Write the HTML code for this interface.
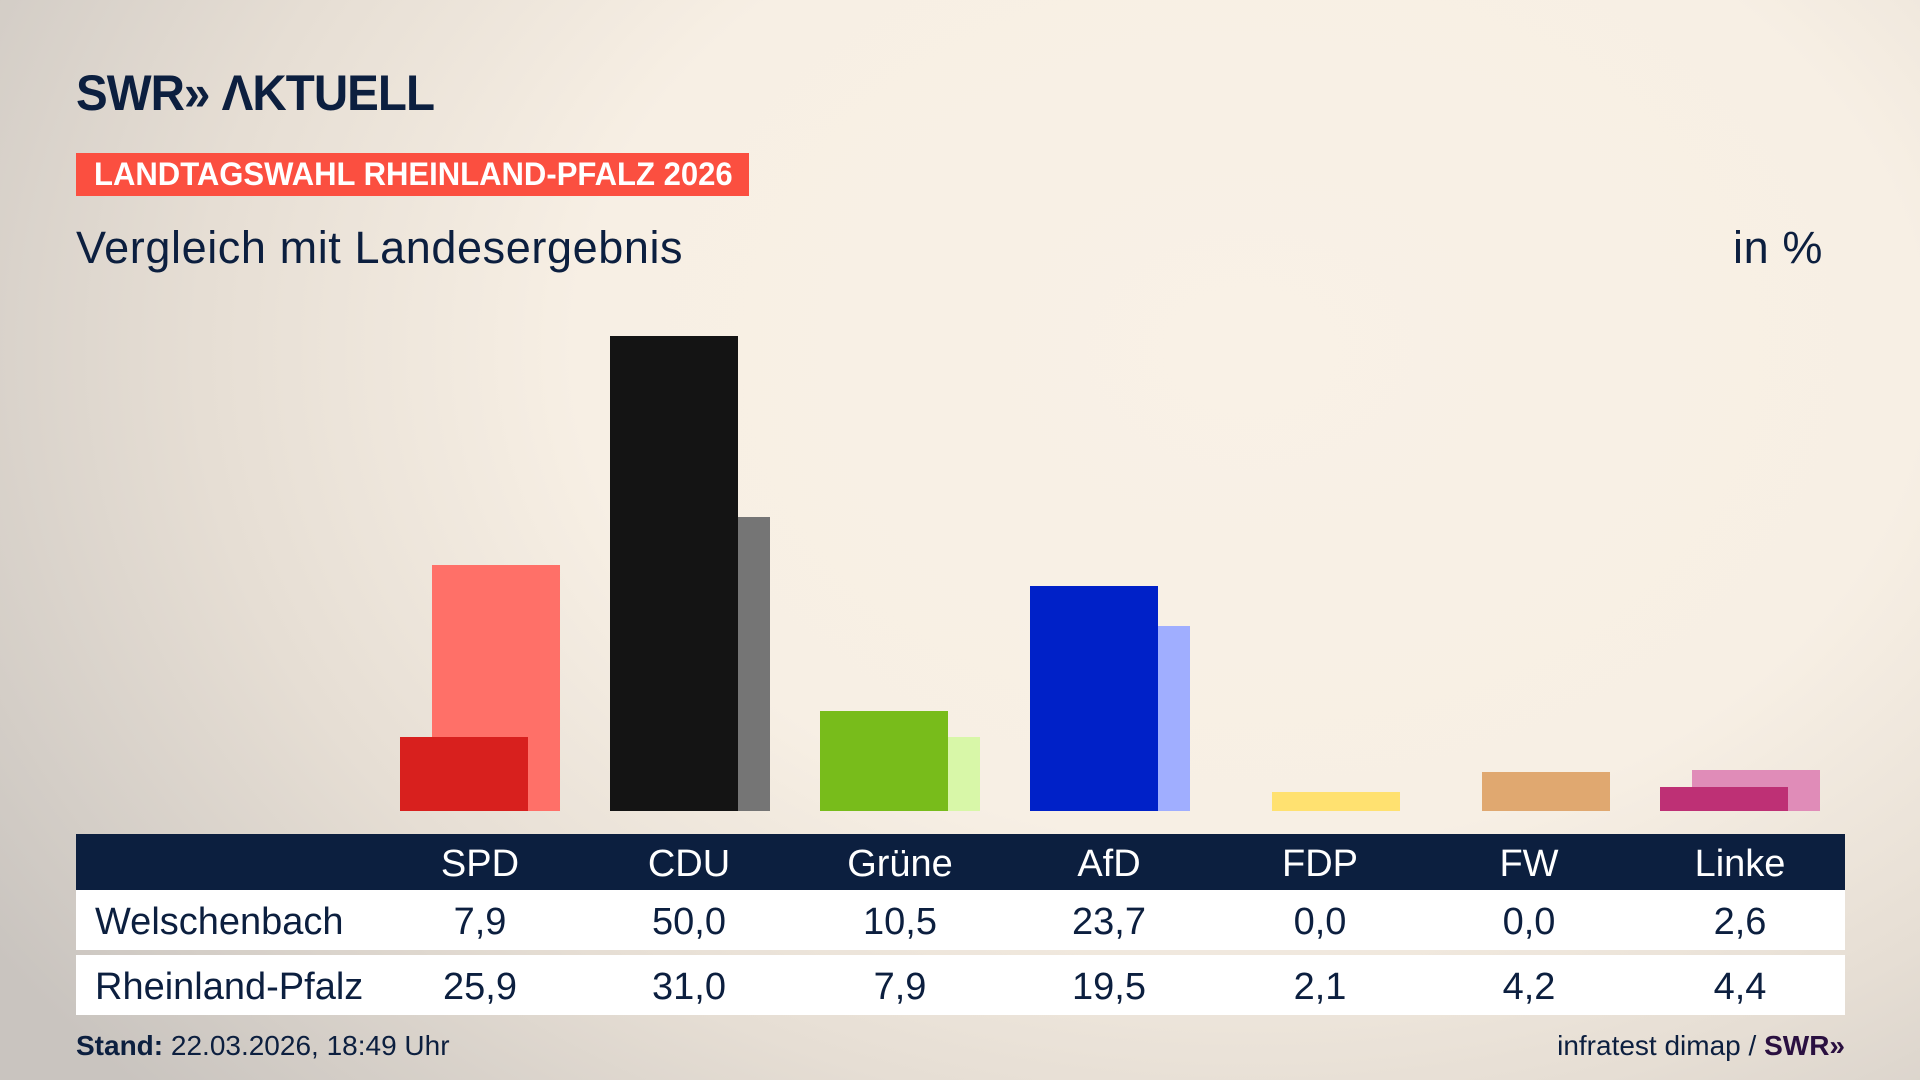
<!DOCTYPE html>
<html><head><meta charset="utf-8"><style>
*{margin:0;padding:0;box-sizing:border-box}
body{width:1920px;height:1080px;overflow:hidden;position:relative;font-family:"Liberation Sans",sans-serif;color:#0c1f3f;
background:radial-gradient(ellipse 1500px 1100px at 1250px 350px,#f9f1e6 0%,#f7efe4 45%,#e6ded4 70%,#c9c4bf 100%);}
.a{position:absolute;white-space:nowrap}
.bar{position:absolute}
.logo{left:76px;top:64px;font-weight:bold;font-size:50px;letter-spacing:-1px;color:#0c1f3f;transform:scaleX(0.95);transform-origin:left}
.banner{left:76px;top:153px;width:673px;height:43px;background:#fb4f40}
.bt{left:94px;top:153px;color:#fff;font-weight:bold;font-size:32px;line-height:43px;transform:scaleX(0.97);transform-origin:left}
.sub{font-size:45px;top:222px;letter-spacing:0.6px}
.hdr{left:76px;top:834px;width:1769px;height:56px;background:#0c1f3f}
.row{left:76px;width:1769px;height:60px;background:#fff}
.c{position:absolute;width:200px;margin-left:-100px;text-align:center;font-size:38px}
.h{color:#fff;top:843px}
.r1{top:901px}.r2{top:966px}
.lbl{position:absolute;left:95px;font-size:38px}
</style></head><body>
<div class="a logo">SWR» ΛKTUELL</div>
<div class="a banner"></div>
<div class="a bt">LANDTAGSWAHL RHEINLAND-PFALZ 2026</div>
<div class="a sub" style="left:76px">Vergleich mit Landesergebnis</div>
<div class="a sub" style="right:97px">in %</div>

<div class="bar" style="left:432px;top:565px;width:128px;height:246px;background:#ff7068"></div>
<div class="bar" style="left:400px;top:737px;width:128px;height:74px;background:#d8201e"></div>
<div class="bar" style="left:642px;top:517px;width:128px;height:294px;background:#757575"></div>
<div class="bar" style="left:610px;top:336px;width:128px;height:475px;background:#141414"></div>
<div class="bar" style="left:852px;top:737px;width:128px;height:74px;background:#d8f7a8"></div>
<div class="bar" style="left:820px;top:711px;width:128px;height:100px;background:#78bc1b"></div>
<div class="bar" style="left:1062px;top:626px;width:128px;height:185px;background:#a0aeff"></div>
<div class="bar" style="left:1030px;top:586px;width:128px;height:225px;background:#0021c8"></div>
<div class="bar" style="left:1272px;top:792px;width:128px;height:19px;background:#ffe170"></div>
<div class="bar" style="left:1482px;top:772px;width:128px;height:39px;background:#e0a870"></div>
<div class="bar" style="left:1692px;top:770px;width:128px;height:41px;background:#e08cb8"></div>
<div class="bar" style="left:1660px;top:787px;width:128px;height:24px;background:#be3075"></div>

<div class="a hdr"></div>
<div class="a row" style="top:890px"></div>
<div class="a row" style="top:955px"></div>
<div class="c h" style="left:480px">SPD</div><div class="c h" style="left:689px">CDU</div><div class="c h" style="left:900px">Grüne</div><div class="c h" style="left:1109px">AfD</div><div class="c h" style="left:1320px">FDP</div><div class="c h" style="left:1529px">FW</div><div class="c h" style="left:1740px">Linke</div>
<div class="lbl r1">Welschenbach</div>
<div class="c r1" style="left:480px">7,9</div><div class="c r1" style="left:689px">50,0</div><div class="c r1" style="left:900px">10,5</div><div class="c r1" style="left:1109px">23,7</div><div class="c r1" style="left:1320px">0,0</div><div class="c r1" style="left:1529px">0,0</div><div class="c r1" style="left:1740px">2,6</div>
<div class="lbl r2">Rheinland-Pfalz</div>
<div class="c r2" style="left:480px">25,9</div><div class="c r2" style="left:689px">31,0</div><div class="c r2" style="left:900px">7,9</div><div class="c r2" style="left:1109px">19,5</div><div class="c r2" style="left:1320px">2,1</div><div class="c r2" style="left:1529px">4,2</div><div class="c r2" style="left:1740px">4,4</div>

<div class="a" style="left:76px;top:1030px;font-size:28px"><b>Stand:</b> 22.03.2026, 18:49 Uhr</div>
<div class="a" style="right:75px;top:1030px;font-size:28px">infratest dimap / <b style="color:#2a1040">SWR»</b></div>
</body></html>
